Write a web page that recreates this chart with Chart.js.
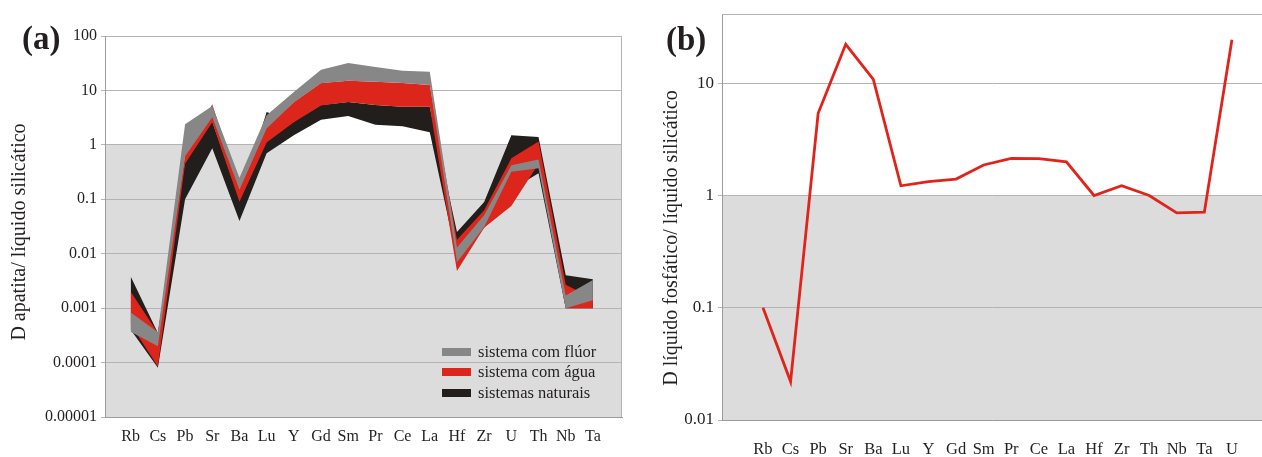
<!DOCTYPE html>
<html>
<head>
<meta charset="utf-8">
<script src="https://cdn.jsdelivr.net/npm/chart.js@4"></script>
<style>
  html, body { margin: 0; padding: 0; background: #fff; overflow: hidden; }
  body { width: 1262px; height: 457px; position: relative; font-family: "Liberation Serif", "Times New Roman", serif; color: #231f20; }
  canvas { position: absolute; top: 0; }
  .ytitle { position: absolute; width: 420px; text-align: center; font-size: 20px; line-height: 24px; transform: rotate(-90deg); white-space: nowrap; }
  .plabel { position: absolute; font-size: 33px; font-weight: bold; line-height: 33px; }
  .lg { position: absolute; font-size: 16.5px; line-height: 20px; white-space: nowrap; }
  .sw { position: absolute; width: 29px; height: 8px; }
</style>
</head>
<body>
<canvas id="ca" width="640" height="457" style="left:0"></canvas>
<canvas id="cb" width="622" height="457" style="left:640px"></canvas>

<div class="plabel" style="left:22px; top:22px">(a)</div>
<div class="plabel" style="left:666px; top:23px">(b)</div>
<div class="ytitle" style="left:-192px; top:220px">D apatita/ líquido silicático</div>
<div class="ytitle" style="left:460px; top:226px">D líquido fosfático/ líquido silicático</div>

<div class="sw" style="left:442px; top:348px; background:#878787"></div>
<div class="lg" style="left:478px; top:342px">sistema com flúor</div>
<div class="sw" style="left:442px; top:368px; background:#dc261b"></div>
<div class="lg" style="left:478px; top:362px">sistema com água</div>
<div class="sw" style="left:442px; top:389px; background:#221e1c"></div>
<div class="lg" style="left:478px; top:383px">sistemas naturais</div>

<script>
// ---------- data: panel (a) ----------
const categoriesA = ['Rb','Cs','Pb','Sr','Ba','Lu','Y','Gd','Sm','Pr','Ce','La','Hf','Zr','U','Th','Nb','Ta'];
const fluorLow   = [0.00037, 0.0002,   0.62, 3.2, 0.15, 2.0, 6.0, 13.5, 15,  14.4, 13.7, 12.6, 0.007,  0.031, 0.32,  0.37, 0.001, 0.0014];
const fluorHigh  = [0.00083, 0.00036,  2.4,  5.2, 0.25, 3.5, 9.4, 24,   32,  27,   23,   22,   0.013,  0.051, 0.42,  0.54, 0.0017, 0.0033];
const aguaLow    = [0.0005,  0.000085, 0.45, 2.6, 0.09, 1.1, 2.6, 5.3,  6.1, 5.4,  5.0,  5.0,  0.0048, 0.03,  0.075, 0.45, 0.001, 0.001];
const aguaHigh   = [0.002,   0.00035,  0.66, 5.6, 0.17, 2.1, 6.1, 13.7, 15,  14.4, 13.7, 12.6, 0.018,  0.063, 0.57,  1.15, 0.0027, 0.0015];
const naturalLow = [0.0004,  0.00008,  0.1,  0.87,0.04, 0.7, 1.5, 2.9,  3.4, 2.35, 2.2,  1.7,  0.008,  0.03,  0.15,  0.3,  0.001, 0.001];
const naturalHigh= [0.0038,  0.00035,  0.5,  2.7, 0.1,  4.0, 2.7, 5.4,  6.1, 5.4,  5.0,  5.0,  0.025,  0.089, 1.5,   1.4,  0.004, 0.0034];
const yTicksA      = [0.00001, 0.0001, 0.001, 0.01, 0.1, 1, 10, 100];
const yTickLabelsA = ['0.00001','0.0001','0.001','0.01','0.1','1','10','100'];

// ---------- data: panel (b) ----------
const categoriesB = ['Rb','Cs','Pb','Sr','Ba','Lu','Y','Gd','Sm','Pr','Ce','La','Hf','Zr','Th','Nb','Ta','U'];
const fosfatico   = [0.1, 0.022, 5.4, 22.2, 10.8, 1.22, 1.33, 1.40, 1.87, 2.14, 2.13, 1.99, 1.0, 1.22, 1.0, 0.70, 0.71, 24.4];
const yTicksB      = [0.01, 0.1, 1, 10];
const yTickLabelsB = ['0.01','0.1','1','10'];

const FONT = '"Liberation Serif", "Times New Roman", serif';
const TXT = '#231f20';
const GRID = '#b4b4b4';
const AXIS = '#9c9c9c';

const pts = arr => arr.map((v, i) => ({x: i, y: v}));

const shadePlugin = {
  id: 'shade',
  beforeDraw(chart, args, opts) {
    const {ctx, chartArea: a, scales} = chart;
    const y1 = Math.round(scales.y.getPixelForValue(1));
    ctx.save();
    ctx.fillStyle = '#dcdcdc';
    ctx.fillRect(a.left, y1, a.right - a.left, a.bottom - y1);
    ctx.restore();
  },
  beforeDatasetsDraw(chart, args, opts) {
    const {ctx, chartArea: a} = chart;
    ctx.save();
    ctx.strokeStyle = GRID;
    ctx.lineWidth = 1;
    ctx.beginPath();
    if (opts.top) { ctx.moveTo(a.left, Math.round(a.top) + 0.5); ctx.lineTo(a.right, Math.round(a.top) + 0.5); }
    if (opts.right) { ctx.moveTo(Math.round(a.right) - 0.5, a.top); ctx.lineTo(Math.round(a.right) - 0.5, a.bottom); }
    ctx.stroke();
    ctx.restore();
  }
};

function xAxis(cats, min, max, height, pad, size) {
  return {
    type: 'linear', min: min, max: max,
    grid: { display: false },
    border: { display: true, color: AXIS, width: 1 },
    afterBuildTicks: s => { s.ticks = cats.map((c, i) => ({value: i})); },
    afterFit: s => { s.height = height; },
    ticks: { autoSkip: false, maxRotation: 0, padding: pad, color: TXT,
             font: { family: FONT, size: size },
             callback: v => cats[v] }
  };
}
function yAxis(min, max, tv, tl, width, size) {
  return {
    type: 'logarithmic', min: min, max: max,
    grid: { color: GRID, lineWidth: 1, tickLength: 4, tickColor: GRID },
    border: { display: true, color: AXIS, width: 1 },
    afterBuildTicks: s => { s.ticks = tv.map(v => ({value: v})); },
    afterFit: s => { s.width = width; },
    ticks: { padding: 4, color: TXT, font: { family: FONT, size: size },
             callback: v => { const k = tv.indexOf(v); return k >= 0 ? tl[k] : ''; } }
  };
}

function band(low, high, color) {
  return [
    { data: pts(low), borderColor: 'rgba(0,0,0,0)', borderWidth: 0, pointRadius: 0, fill: false, tension: 0 },
    { data: pts(high), borderColor: 'rgba(0,0,0,0)', borderWidth: 0, pointRadius: 0, fill: '-1', backgroundColor: color, tension: 0 }
  ];
}

new Chart(document.getElementById('ca'), {
  type: 'line',
  data: {
    datasets: [
      ...band(fluorLow, fluorHigh, '#878787'),
      ...band(aguaLow, aguaHigh, '#dc261b'),
      ...band(naturalLow, naturalHigh, '#221e1c')
    ]
  },
  options: {
    responsive: false, animation: false, devicePixelRatio: 1,
    layout: { padding: { left: 0, right: 18, top: 36, bottom: 0 } },
    plugins: { legend: { display: false }, tooltip: { enabled: false }, shade: { top: false, right: true },
               filler: { propagate: false } },
    scales: {
      x: xAxis(categoriesA, -0.945, 18.07, 40, 2, 16),
      y: yAxis(0.00001, 100, yTicksA, yTickLabelsA, 105, 16)
    }
  },
  plugins: [shadePlugin]
});

new Chart(document.getElementById('cb'), {
  type: 'line',
  data: {
    datasets: [
      { data: pts(fosfatico), borderColor: '#e0241c', borderWidth: 2.8, pointRadius: 0, fill: false, tension: 0 }
    ]
  },
  options: {
    responsive: false, animation: false, devicePixelRatio: 1,
    layout: { padding: { left: 0, right: 0, top: 12, bottom: 0 } },
    plugins: { legend: { display: false }, tooltip: { enabled: false }, shade: { top: true, right: false } },
    scales: {
      x: xAxis(categoriesB, -1.486, 18.09, 37, 12, 16.5),
      y: yAxis(0.01, 41.2, yTicksB, yTickLabelsB, 82, 17)
    }
  },
  plugins: [shadePlugin]
});
</script>
</body>
</html>
